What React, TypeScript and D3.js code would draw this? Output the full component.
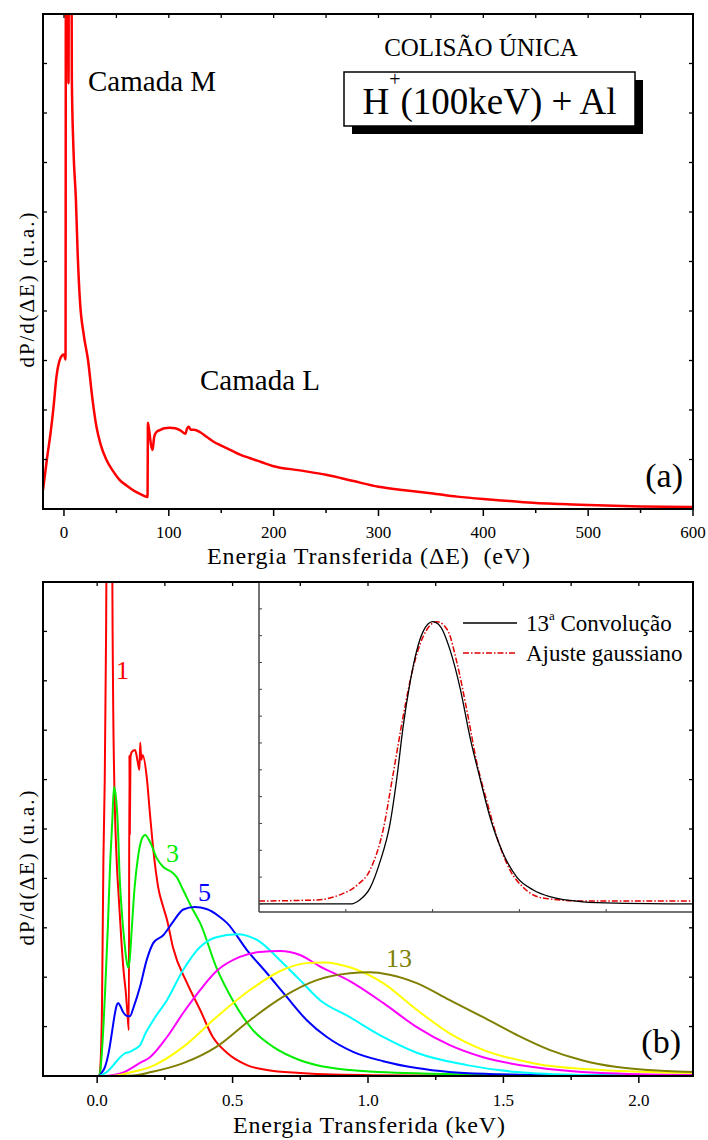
import React from 'react';
import * as d3 from 'd3';

// ---- panel (a): single collision, ΔE in eV, dP/d(ΔE) in arbitrary units ----
const spectrumA: [number, number][] = [
  [-20, 0.38], [-16, 1.05], [-13, 1.5], [-10, 2.05], [-7, 2.7], [-4.5, 2.98], [-2, 3.1], [0, 3.12],
  [1.5, 3.02], [1.9, 14], [2.8, 11], [3.4, 13], [4.3, 8.6], [4.9, 13], [5.5, 10.5], [6.1, 13.5],
  [6.7, 11], [7.1, 12], [7.5, 8.7], [9, 7.3], [11.4, 6.24], [13, 5.2], [15.2, 4.22], [19, 3.5],
  [23, 3.0], [27, 2.25], [31, 1.66], [35, 1.3], [40.6, 0.99], [47, 0.76], [53, 0.59], [60, 0.47],
  [66, 0.38], [73, 0.3], [79.7, 0.24], [80.1, 1.74], [81.5, 1.55], [83, 1.3], [84.5, 1.19],
  [86, 1.45], [88, 1.55], [92, 1.6], [96, 1.63], [101, 1.64], [106, 1.63], [111, 1.59],
  [116, 1.52], [117, 1.6], [119, 1.66], [121, 1.6], [124, 1.6], [130, 1.55], [136, 1.46],
  [142, 1.37], [150, 1.28], [156, 1.22], [161, 1.17], [168, 1.1], [177, 1.03], [188, 0.95],
  [199, 0.87], [225, 0.78], [250, 0.69], [275, 0.57], [300, 0.45], [325, 0.38], [350, 0.32],
  [375, 0.25], [400, 0.2], [425, 0.16], [450, 0.12], [475, 0.1], [500, 0.08], [550, 0.05], [600, 0.04],
];

// ---- panel (b): successive convolutions, ΔE in keV ----
const conv1: [number, number][] = [
  [-0.2, 0], [0.008, 0], [0.012, 0.2], [0.018, 1.5], [0.023, 4.37], [0.028, 6], [0.033, 9],
  [0.036, 12], [0.045, 14], [0.054, 12], [0.057, 9], [0.059, 7.6], [0.065, 5.5], [0.072, 4.37],
  [0.081, 3.5], [0.09, 2.69], [0.098, 2.1], [0.106, 1.68], [0.112, 1.25], [0.117, 0.93],
  [0.119, 6.5], [0.1205, 4.9], [0.123, 6.45], [0.128, 6.56], [0.14, 6.6], [0.15, 6.35],
  [0.156, 6.2], [0.159, 6.75], [0.163, 6.4], [0.168, 6.5], [0.183, 6.05], [0.195, 5.3],
  [0.207, 4.6], [0.225, 3.83], [0.244, 3.42], [0.258, 3.16], [0.28, 2.6], [0.332, 1.88],
  [0.38, 1.34], [0.427, 0.79], [0.479, 0.47], [0.553, 0.22], [0.627, 0.12], [0.749, 0.06],
  [0.871, 0.03], [1.2, 0.01], [2.2, 0],
];
const conv3: [number, number][] = [
  [-0.2, 0], [0.005, 0], [0.01, 0.05], [0.02, 0.7], [0.03, 1.8], [0.04, 3.1], [0.047, 4.17],
  [0.056, 5.18], [0.062, 5.85], [0.068, 5.7], [0.073, 5.4], [0.078, 4.84], [0.082, 4.17],
  [0.09, 3.4], [0.1, 2.75], [0.108, 2.35], [0.115, 2.19], [0.12, 2.35], [0.128, 3.0],
  [0.138, 3.8], [0.15, 4.4], [0.165, 4.8], [0.177, 4.88], [0.195, 4.74], [0.22, 4.41],
  [0.244, 4.23], [0.275, 4.13], [0.293, 4.03], [0.317, 3.77], [0.354, 3.36], [0.38, 3.1],
  [0.44, 2.2], [0.5, 1.54], [0.575, 0.93], [0.65, 0.59], [0.749, 0.32], [0.87, 0.16],
  [0.933, 0.12], [1.2, 0.05], [1.6, 0.02], [2.2, 0],
];
const conv5: [number, number][] = [
  [-0.2, 0], [0.005, 0], [0.015, 0.05], [0.03, 0.2], [0.045, 0.55], [0.055, 0.9], [0.065, 1.25],
  [0.072, 1.43], [0.078, 1.48], [0.085, 1.42], [0.095, 1.3], [0.108, 1.22], [0.121, 1.21],
  [0.135, 1.4], [0.158, 1.8], [0.183, 2.35], [0.207, 2.69], [0.244, 2.85], [0.28, 3.12],
  [0.318, 3.37], [0.36, 3.42], [0.404, 3.38], [0.453, 3.22], [0.479, 3.1], [0.553, 2.55],
  [0.627, 2.08], [0.7, 1.6], [0.774, 1.13], [0.848, 0.79], [0.945, 0.49], [1.056, 0.3],
  [1.18, 0.16], [1.3, 0.08], [1.45, 0.04], [1.67, 0.02], [2.2, 0],
];
const conv7: [number, number][] = [
  [-0.2, 0], [0.005, 0], [0.02, 0.03], [0.04, 0.1], [0.06, 0.22], [0.085, 0.38], [0.1, 0.45],
  [0.121, 0.49], [0.14, 0.55], [0.158, 0.62], [0.18, 0.88], [0.207, 1.13], [0.258, 1.54],
  [0.318, 2.15], [0.38, 2.61], [0.44, 2.81], [0.516, 2.87], [0.6, 2.72], [0.674, 2.35],
  [0.749, 1.94], [0.822, 1.54], [0.93, 1.2], [1.056, 0.79], [1.18, 0.47], [1.365, 0.22],
  [1.55, 0.08], [1.79, 0.02], [2.2, 0],
];
const conv9: [number, number][] = [
  [-0.2, 0], [0.03, 0], [0.06, 0.02], [0.1, 0.08], [0.133, 0.18], [0.16, 0.27], [0.195, 0.38],
  [0.258, 0.79], [0.318, 1.28], [0.38, 1.74], [0.44, 2.12], [0.527, 2.41], [0.6, 2.51],
  [0.674, 2.53], [0.749, 2.45], [0.822, 2.22], [0.933, 1.92], [1.056, 1.48], [1.18, 0.99],
  [1.3, 0.63], [1.425, 0.38], [1.61, 0.18], [1.86, 0.06], [2.2, 0.02],
];
const conv11: [number, number][] = [
  [-0.2, 0], [0.05, 0], [0.073, 0.01], [0.12, 0.07], [0.195, 0.18], [0.318, 0.59], [0.44, 1.19],
  [0.564, 1.74], [0.686, 2.15], [0.78, 2.29], [0.84, 2.3], [0.933, 2.2], [1.056, 1.88],
  [1.18, 1.34], [1.3, 0.87], [1.425, 0.53], [1.61, 0.26], [1.86, 0.12], [2.2, 0.06],
];
const conv13: [number, number][] = [
  [-0.2, 0], [0.08, 0], [0.133, 0.01], [0.2, 0.08], [0.318, 0.26], [0.44, 0.59], [0.564, 1.13],
  [0.686, 1.6], [0.811, 1.94], [0.933, 2.08], [1.007, 2.1], [1.08, 2.05], [1.18, 1.88],
  [1.3, 1.54], [1.425, 1.19], [1.55, 0.83], [1.67, 0.53], [1.79, 0.32], [1.92, 0.18],
  [2.1, 0.1], [2.2, 0.08],
];

const seriesB = [
  { label: '1', color: '#ff0000', data: conv1 },
  { label: '3', color: '#00ee00', data: conv3 },
  { label: '5', color: '#0000ff', data: conv5 },
  { label: '7', color: '#00ffff', data: conv7 },
  { label: '9', color: '#ff00ff', data: conv9 },
  { label: '11', color: '#ffff00', data: conv11 },
  { label: '13', color: '#808000', data: conv13 },
];

// ---- inset: 13th convolution vs gaussian fit (arbitrary units) ----
const inset13: [number, number][] = [
  [0, 0], [1.05, 0], [1.16, 0.15], [1.28, 0.6], [1.39, 1.53], [1.51, 3.0], [1.59, 4.74],
  [1.66, 6.6], [1.74, 8.25], [1.82, 9.48], [1.89, 10.15], [2.0, 10.52], [2.09, 10.34],
  [2.2, 9.48], [2.32, 8.0], [2.43, 6.23], [2.55, 4.63], [2.66, 3.25], [2.81, 1.9], [2.97, 1.0],
  [3.16, 0.52], [3.35, 0.27], [3.73, 0.08], [4.12, 0.03], [5, 0],
];
const insetGauss: [number, number][] = [
  [0, 0.11], [0.67, 0.15], [0.93, 0.34], [1.13, 0.7], [1.28, 1.27], [1.43, 2.76], [1.54, 4.74],
  [1.66, 6.98], [1.77, 8.73], [1.89, 9.96], [2.05, 10.52], [2.17, 10.22], [2.28, 9.0],
  [2.4, 7.13], [2.51, 5.26], [2.63, 3.77], [2.74, 2.5], [2.89, 1.27], [3.04, 0.63],
  [3.27, 0.22], [3.73, 0.11], [5, 0.11],
];

// ---- ticks ----
const ticksAMajor = [0, 100, 200, 300, 400, 500, 600];
const ticksAMinor = [50, 150, 250, 350, 450, 550];
const ticksBMajor = [0, 0.5, 1.0, 1.5, 2.0];
const ticksBMinor = [0.25, 0.75, 1.25, 1.75];
const ticksY = [0, 1, 2, 3, 4, 5, 6, 7, 8, 9, 10];
const ticksInsetX = [1, 2, 3, 4];
const ticksInsetY = [0, 1, 2, 3, 4, 5, 6, 7, 8, 9, 10, 11];

const W = 708, H = 1140;
const L = 43, R = 693;
const font = "'Liberation Serif', 'DejaVu Serif', serif";

export default function App() {
  const xA = d3.scaleLinear().domain([-20, 600]).range([L, R]);
  const yA = d3.scaleLinear().domain([0, 10]).range([509, 14]);
  const xB = d3.scaleLinear().domain([-0.2, 2.2]).range([L, R]);
  const yB = d3.scaleLinear().domain([0, 10]).range([1076, 582]);
  const xI = d3.scaleLinear().domain([0, 5]).range([259, R]);
  const yI = d3.scaleLinear().domain([-0.3, 12]).range([912, 582]);

  const lineA = d3.line<[number, number]>().x(d => xA(d[0])).y(d => yA(d[1])).curve(d3.curveMonotoneX);
  const lineB = d3.line<[number, number]>().x(d => xB(d[0])).y(d => yB(d[1])).curve(d3.curveMonotoneX);
  const lineI = d3.line<[number, number]>().x(d => xI(d[0])).y(d => yI(d[1])).curve(d3.curveMonotoneX);

  const [a0, a1] = yA.range();
  const [b0, b1] = yB.range();

  const yTicks = (y: d3.ScaleLinear<number, number>) =>
    ticksY.map(t => (
      <g key={'y' + t}>
        <line x1={L} x2={L + 4} y1={y(t)} y2={y(t)} stroke="#000" strokeWidth={1.3} />
        <line x1={R} x2={R - 4} y1={y(t)} y2={y(t)} stroke="#000" strokeWidth={1.3} />
      </g>
    ));

  return (
    <div style={{ position: 'absolute', left: 0, top: 0 }}>
      <svg width={W} height={H} style={{ display: 'block', background: '#fff', fontFamily: font }}>
        <defs>
          <clipPath id="clipA"><rect x={L} y={a1} width={R - L} height={a0 - a1} /></clipPath>
          <clipPath id="clipB"><rect x={L} y={b1} width={R - L} height={b0 - b1} /></clipPath>
        </defs>

        {/* ===== panel (a) ===== */}
        <path d={lineA(spectrumA) || ''} fill="none" stroke="#ff0000" strokeWidth={2.5}
          strokeLinejoin="round" clipPath="url(#clipA)" />
        <rect x={L} y={a1} width={R - L} height={a0 - a1} fill="none" stroke="#000" strokeWidth={2} />
        {yTicks(yA)}
        {ticksAMajor.map(t => (
          <g key={'am' + t}>
            <line x1={xA(t)} x2={xA(t)} y1={a0} y2={a0 + 7} stroke="#000" strokeWidth={1.5} />
            <line x1={xA(t)} x2={xA(t)} y1={a1} y2={a1 + 4} stroke="#000" strokeWidth={1.3} />
            <text x={xA(t)} y={538} fontSize={17} textAnchor="middle">{t}</text>
          </g>
        ))}
        {ticksAMinor.map(t => (
          <g key={'an' + t}>
            <line x1={xA(t)} x2={xA(t)} y1={a0} y2={a0 + 4} stroke="#000" strokeWidth={1.5} />
            <line x1={xA(t)} x2={xA(t)} y1={a1} y2={a1 + 4} stroke="#000" strokeWidth={1.3} />
          </g>
        ))}
        <text x={207} y={564} fontSize={24} textLength={323} lengthAdjust="spacing"
          style={{ whiteSpace: 'pre' }}>Energia Transferida (ΔE)  (eV)</text>
        <text transform="translate(34,290) rotate(-90)" fontSize={21} textAnchor="middle"
          textLength={155} lengthAdjust="spacing">dP/d(ΔE) (u.a.)</text>

        <text x={88} y={91} fontSize={29}>Camada M</text>
        <text x={200} y={390} fontSize={29}>Camada L</text>
        <text x={481} y={56} fontSize={25} textAnchor="middle">COLISÃO ÚNICA</text>
        <rect x={352} y={80} width={291} height={54} fill="#000" />
        <rect x={344} y={72} width={291} height={54} fill="#fff" stroke="#000" strokeWidth={1.5} />
        <text x={489.5} y={114} fontSize={37} textAnchor="middle">
          H<tspan dy={-28} fontSize={20}>+</tspan><tspan dy={28} fontSize={37}>(100keV) + Al</tspan>
        </text>
        <text x={683} y={487} fontSize={34} textAnchor="end">(a)</text>

        {/* ===== panel (b) ===== */}
        <g clipPath="url(#clipB)">
          {seriesB.map(s => (
            <path key={s.label} d={lineB(s.data) || ''} fill="none" stroke={s.color}
              strokeWidth={2} strokeLinejoin="round" />
          ))}
        </g>

        {/* inset */}
        <rect x={xI(0)} y={b1} width={R - xI(0)} height={yI(-0.3) - b1} fill="#fff" />
        <path d={lineI(insetGauss) || ''} fill="none" stroke="#e00000" strokeWidth={1.5}
          strokeDasharray="6,2,1.5,2" />
        <path d={lineI(inset13) || ''} fill="none" stroke="#000" strokeWidth={1.3} />
        <line x1={xI(0)} x2={xI(0)} y1={b1} y2={yI(-0.3)} stroke="#444" strokeWidth={1.5} />
        <line x1={xI(0)} x2={R} y1={yI(-0.3)} y2={yI(-0.3)} stroke="#444" strokeWidth={1.5} />
        {ticksInsetX.map(t => (
          <line key={'ix' + t} x1={xI(t)} x2={xI(t)} y1={yI(-0.3)} y2={yI(-0.3) - 3} stroke="#444" strokeWidth={1} />
        ))}
        {ticksInsetY.map(t => (
          <line key={'iy' + t} x1={xI(0)} x2={xI(0) + 3} y1={yI(t)} y2={yI(t)} stroke="#444" strokeWidth={1} />
        ))}
        <line x1={463} x2={517} y1={623} y2={623} stroke="#000" strokeWidth={1.3} />
        <text x={526} y={631} fontSize={23}>
          13<tspan dy={-11} fontSize={13}>a</tspan><tspan dy={11}>{' Convolução'}</tspan>
        </text>
        <line x1={463} x2={517} y1={653} y2={653} stroke="#e00000" strokeWidth={1.5} strokeDasharray="6,2,1.5,2" />
        <text x={526} y={661} fontSize={23}>Ajuste gaussiano</text>

        <rect x={L} y={b1} width={R - L} height={b0 - b1} fill="none" stroke="#000" strokeWidth={2} />
        {yTicks(yB)}
        {ticksBMajor.map(t => (
          <g key={'bm' + t}>
            <line x1={xB(t)} x2={xB(t)} y1={b0} y2={b0 + 7} stroke="#000" strokeWidth={1.5} />
            <line x1={xB(t)} x2={xB(t)} y1={b1} y2={b1 + 4} stroke="#000" strokeWidth={1.3} />
            <text x={xB(t)} y={1106} fontSize={17} textAnchor="middle">{t.toFixed(1)}</text>
          </g>
        ))}
        {ticksBMinor.map(t => (
          <g key={'bn' + t}>
            <line x1={xB(t)} x2={xB(t)} y1={b0} y2={b0 + 4} stroke="#000" strokeWidth={1.5} />
            <line x1={xB(t)} x2={xB(t)} y1={b1} y2={b1 + 4} stroke="#000" strokeWidth={1.3} />
          </g>
        ))}
        <text x={233} y={1133} fontSize={24} textLength={272} lengthAdjust="spacing">Energia Transferida (keV)</text>
        <text transform="translate(34,868) rotate(-90)" fontSize={21} textAnchor="middle"
          textLength={155} lengthAdjust="spacing">dP/d(ΔE) (u.a.)</text>

        <text x={116} y={679} fontSize={26} fill="#ff0000">1</text>
        <text x={166} y={862} fontSize={26} fill="#00ee00">3</text>
        <text x={198} y={901} fontSize={26} fill="#0000ff">5</text>
        <text x={386} y={967} fontSize={26} fill="#808000">13</text>
        <text x={681} y={1053} fontSize={34} textAnchor="end">(b)</text>
      </svg>
    </div>
  );
}
